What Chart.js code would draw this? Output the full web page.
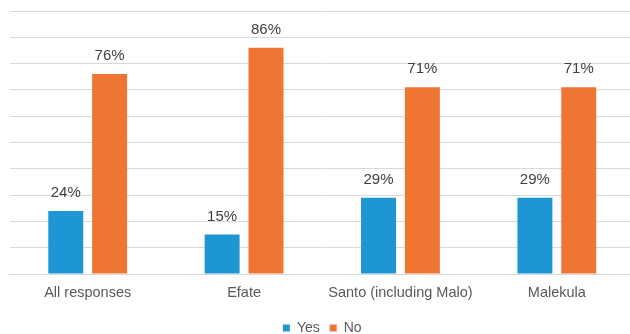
<!DOCTYPE html>
<html>
<head>
<meta charset="utf-8">
<script src="https://cdn.jsdelivr.net/npm/chart.js@4/dist/chart.umd.min.js"></script>
<style>
  html, body { margin: 0; padding: 0; background: #fff; overflow: hidden; }
  #wrap { width: 635px; height: 334px; }
</style>
</head>
<body>
<div id="wrap"><canvas id="graphique"></canvas></div>
<script>
// donnees du graphique
const categories = ["All responses", "Efate", "Santo (including Malo)", "Malekula"];
const oui = [24, 15, 29, 29];
const non = [76, 86, 71, 71];

// petit plugin pour ecrire les pourcentages au dessus des barres
const etiquettes = {
  id: "etiquettes",
  afterDatasetsDraw(chart) {
    const ctx = chart.ctx;
    ctx.save();
    ctx.font = "15px 'Liberation Sans', Arial, sans-serif";
    ctx.fillStyle = "#404040";
    ctx.textAlign = "center";
    ctx.textBaseline = "alphabetic";
    chart.data.datasets.forEach(function (ds, i) {
      const meta = chart.getDatasetMeta(i);
      meta.data.forEach(function (bar, j) {
        ctx.fillText(ds.data[j] + "%", bar.x, bar.y - 14);
      });
    });
    ctx.restore();
  }
};

new Chart(document.querySelector("#graphique"), {
  type: "bar",
  data: {
    labels: categories,
    datasets: [
      { label: "Yes", data: oui, backgroundColor: "#1E96D4" },
      { label: "No", data: non, backgroundColor: "#EF7532" }
    ]
  },
  options: {
    responsive: true,
    maintainAspectRatio: false,
    animation: false,
    categoryPercentage: 0.561,
    barPercentage: 0.797,
    layout: { padding: { left: 9.5, right: 0, top: 11, bottom: -11 } },
    plugins: {
      tooltip: { enabled: false },
      legend: {
        position: "bottom",
        labels: {
          boxWidth: 7,
          boxHeight: 7,
          padding: 10,
          color: "#595959",
          font: { family: "'Liberation Sans', Arial, sans-serif", size: 14 }
        }
      }
    },
    scales: {
      x: {
        grid: { display: false },
        border: { color: "#d9d9d9" },
        ticks: {
          color: "#595959",
          font: { family: "'Liberation Sans', Arial, sans-serif", size: 14.5 },
          padding: 2
        },
        afterFit: function (scale) {
          scale.height = 37;
        }
      },
      y: {
        min: 0,
        max: 100,
        ticks: { stepSize: 10, display: false },
        grid: { color: "#d9d9d9", drawTicks: false },
        border: { display: false },
        afterFit: function (scale) {
          scale.width = 0;
        }
      }
    }
  },
  plugins: [etiquettes]
});
</script>
</body>
</html>
